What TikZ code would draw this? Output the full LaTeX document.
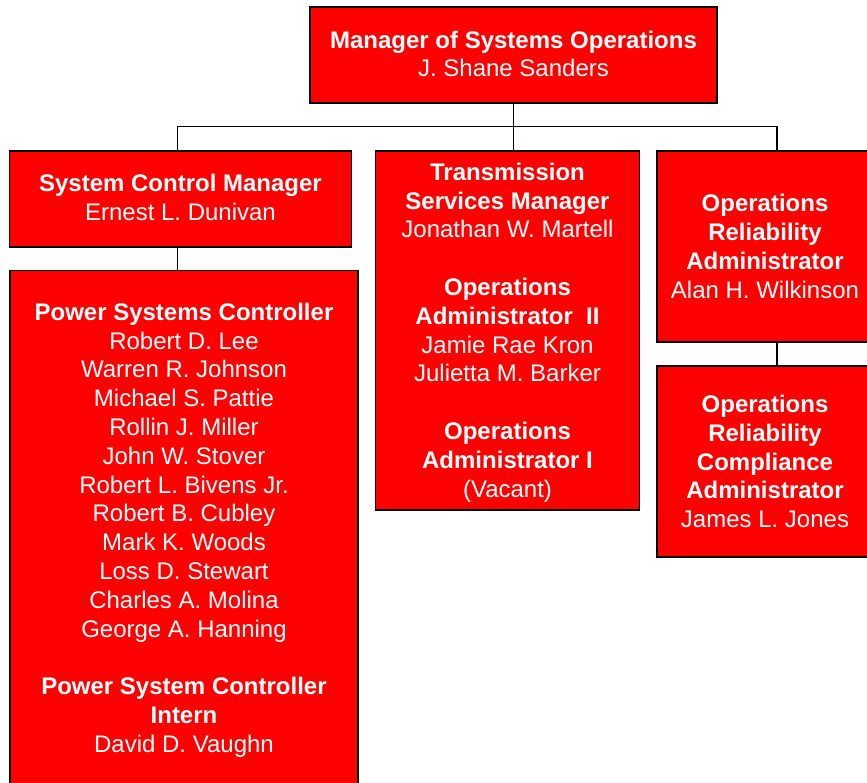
\documentclass[tikz,border=0pt]{standalone}
\usepackage{fontspec}
\setmainfont{Liberation Sans}
\newcommand\orgfs{\fontsize{24}{28.8}\selectfont}
\tikzset{
  orgbox/.style={draw=black, line width=1.8pt, fill=red, inner sep=0pt},
  orgtext/.style={text=white, align=center, inner sep=0pt, font=\orgfs},
  conn/.style={draw=black, line width=1.9pt},
}
\begin{document}
\begin{tikzpicture}[x=1pt,y=-1pt]
\path[use as bounding box] (0,0) rectangle (867,783);
\clip (0,0) rectangle (867,783);
% boxes
\node[orgbox, minimum width=407, minimum height=96] (top) at (513.5,55) {};
\node[orgbox, minimum width=342, minimum height=96] (scm) at (180.5,199) {};
\node[orgbox, minimum width=348, minimum height=540] (psc) at (184,540.5) {};
\node[orgbox, minimum width=264, minimum height=359] (trn) at (507.5,330.5) {};
\node[orgbox, minimum width=216, minimum height=191] (ora) at (765,246.5) {};
\node[orgbox, minimum width=216, minimum height=191] (orc) at (765,461.5) {};
% texts
\node[orgtext] (toptext) at ([yshift=1pt]top.center) {\textbf{Manager of Systems Operations}\\J. Shane Sanders};
\node[orgtext] (scmtext) at ([yshift=1.5pt]scm.center) {\textbf{System Control Manager}\\Ernest L. Dunivan};
\node[orgtext] (psctext) at (184,530) {\textbf{Power Systems Controller}\\Robert D. Lee\\Warren R. Johnson\\Michael S. Pattie\\Rollin J. Miller\\John W. Stover\\Robert L. Bivens Jr.\\Robert B. Cubley\\Mark K. Woods\\Loss D. Stewart\\Charles A. Molina\\George A. Hanning\\[28.8pt]\textbf{Power System Controller}\\\textbf{Intern}\\David D. Vaughn};
\node[orgtext] (trntext) at ([yshift=-2pt]trn.center) {\textbf{Transmission}\\\textbf{Services Manager}\\Jonathan W. Martell\\[28.8pt]\textbf{Operations}\\\textbf{Administrator\ \ II}\\Jamie Rae Kron\\Julietta M. Barker\\[28.8pt]\textbf{Operations}\\\textbf{Administrator I}\\(Vacant)};
\node[orgtext] (oratext) at (ora.center) {\textbf{Operations}\\\textbf{Reliability}\\\textbf{Administrator}\\Alan H. Wilkinson};
\node[orgtext] (orctext) at (orc.center) {\textbf{Operations}\\\textbf{Reliability}\\\textbf{Compliance}\\\textbf{Administrator}\\James L. Jones};
% connectors
\coordinate (bus) at (513.5,126.5);
\coordinate (scmin) at ([xshift=-3pt]scm.north);
\coordinate (orain) at ([xshift=12pt]ora.north);
\coordinate (trnin) at (trn.north -| top.south);
\draw[conn] (top.south) -- (bus);
\draw[conn] (scmin) |- (bus) -| (orain);
\draw[conn] (bus) -- (trnin);
\draw[conn] ([xshift=-3pt]scm.south) -- ([xshift=-3pt]scm.south |- psc.north);
\draw[conn] ([xshift=12pt]ora.south) -- ([xshift=12pt]orc.north);
\end{tikzpicture}
\end{document}
